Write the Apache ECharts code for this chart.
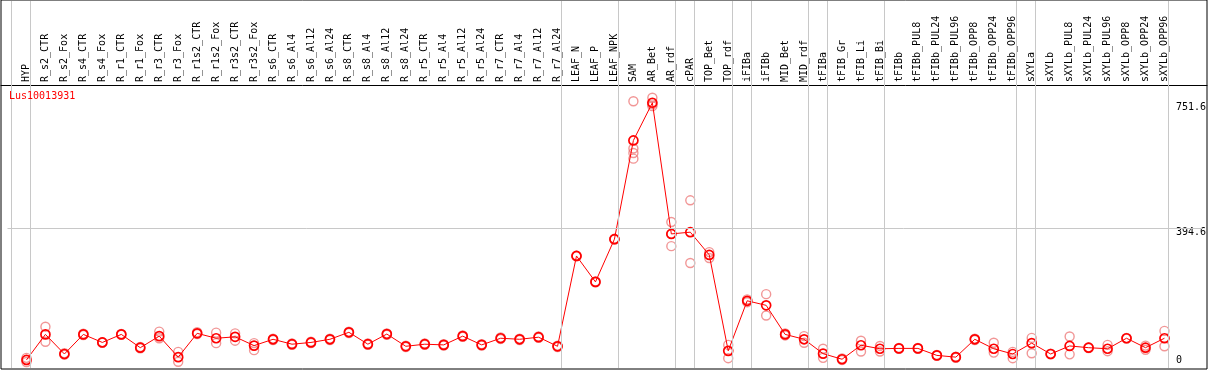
<!DOCTYPE html>
<html><head><meta charset="utf-8">
<script src="https://cdn.jsdelivr.net/npm/echarts@6/dist/echarts.min.js"></script>
<style>html,body{margin:0;padding:0;background:#fff}#c{width:1209px;height:370px}</style>
</head><body><div id="c"></div>
<script>
const title = 'Lus10013931';
const categories = ['HYP','R_s2_CTR','R_s2_Fox','R_s4_CTR','R_s4_Fox','R_r1_CTR','R_r1_Fox','R_r3_CTR','R_r3_Fox','R_r1s2_CTR','R_r1s2_Fox','R_r3s2_CTR','R_r3s2_Fox','R_s6_CTR','R_s6_Al4','R_s6_Al12','R_s6_Al24','R_s8_CTR','R_s8_Al4','R_s8_Al12','R_s8_Al24','R_r5_CTR','R_r5_Al4','R_r5_Al12','R_r5_Al24','R_r7_CTR','R_r7_Al4','R_r7_Al12','R_r7_Al24','LEAF_N','LEAF_P','LEAF_NPK','SAM','AR_Bet','AR_rdf','cPAR','TOP_Bet','TOP_rdf','iFIBa','iFIBb','MID_Bet','MID_rdf','tFIBa','tFIB_Gr','tFIB_Li','tFIB_Bi','tFIBb','tFIBb_PUL8','tFIBb_PUL24','tFIBb_PUL96','tFIBb_OPP8','tFIBb_OPP24','tFIBb_OPP96','sXYLa','sXYLb','sXYLb_PUL8','sXYLb_PUL24','sXYLb_PUL96','sXYLb_OPP8','sXYLb_OPP24','sXYLb_OPP96'];
const means = [17,90,34,90,67,90,52,85,25,93,79,83,58,76,62,67,76,96,62,91,56,62,60,85,60,79,76,82,56,314,240,362,644,751.6,377,382,317,43,186,173,90,76,35,19,59,49,50,50,30,25,76,49,34,65,34,57,52,49,79,52,79];
const replicates = [[23,11],[112,69],[36,32],[92,88],[68,66],[91,89],[54,50],[98,79],[40,12],[96,91],[95,65],[93,72],[65,45],[78,74],[64,60],[69,65],[78,74],[98,94],[64,60],[93,89],[58,54],[64,60],[62,58],[87,83],[62,58],[81,77],[78,74],[84,80],[58,54],[315,313],[241,239],[363,361],[756,621,608,592],[766,742,747],[411,342,377],[473,294],[325,308],[60,22],[190,182],[205,144],[93,87],[85,66],[49,23],[21,17],[72,41],[57,41],[51,49],[51,49],[31,29],[26,23],[78,74],[66,38],[40,22],[80,36],[35,33],[84,33],[53,51],[60,42],[80,78],[58,46],[100,56]];
const groupEnds = [-1,0,28,31,34,35,37,38,41,42,45,52,53,60];
const yLabelsTop = [394.6, 751.6];
const yLabelsBottom = [0];
const gridLineValue = 394.6;

const FONT = 'DejaVu Sans Mono';
const meanData = means.map((v,i)=>[i,v]);
const repData = [];
replicates.forEach((arr,i)=>arr.forEach(v=>repData.push([i,v])));

const chart = echarts.init(document.getElementById('c'), null, {renderer:'canvas'});
chart.setOption({
  animation:false,
  backgroundColor:'#fff',
  title:{text:title,left:9,top:91,padding:0,textStyle:{fontFamily:FONT,fontSize:10,fontWeight:'normal',color:'#ff0000'}},
  grid:[
    {left:7.5,right:4.5,top:1,bottom:2,show:false},
    {left:1,top:0,width:1206,height:369,show:true,borderColor:'#000',borderWidth:1,backgroundColor:'transparent'}
  ],
  xAxis:[
    {type:'value',gridIndex:0,min:-1,max:62,interval:1,position:'top',offset:-84,
     axisLine:{show:false},axisTick:{show:false},splitLine:{show:false},
     axisLabel:{rotate:90,margin:3,fontFamily:FONT,fontSize:10,color:'#000',hideOverlap:false,showMinLabel:true,showMaxLabel:true,
       formatter:v=>categories[Math.round(v)]!==undefined && Math.abs(v-Math.round(v))<1e-6 ? categories[Math.round(v)] : ''}},
    {type:'value',gridIndex:1,min:0,max:1,position:'top',offset:-85,
     axisLine:{show:true,onZero:false,lineStyle:{color:'#000',width:1}},axisTick:{show:false},axisLabel:{show:false},splitLine:{show:false}}
  ],
  yAxis:[
    {type:'value',gridIndex:0,min:-6,max:1042.3,position:'right',offset:-26.5,
     axisLine:{show:false},axisTick:{show:false},splitLine:{show:false},
     axisLabel:{customValues:yLabelsTop,margin:0,verticalAlign:'top',fontFamily:FONT,fontSize:10,color:'#000',formatter:v=>String(v)}},
    {type:'value',gridIndex:0,min:-6,max:1042.3,position:'right',offset:-26.5,
     axisLine:{show:false},axisTick:{show:false},splitLine:{show:false},
     axisLabel:{customValues:yLabelsBottom,margin:0,verticalAlign:'bottom',fontFamily:FONT,fontSize:10,color:'#000',formatter:v=>String(v)}},
    {type:'value',gridIndex:1,min:0,max:1,show:false}
  ],
  series:[
    {type:'scatter',xAxisIndex:0,yAxisIndex:0,data:repData,symbol:'circle',symbolSize:9,z:2,
     itemStyle:{color:'transparent',borderColor:'rgba(236,110,110,0.9)',borderWidth:1.4},
     markLine:{silent:true,symbol:'none',label:{show:false},animation:false,
       lineStyle:{color:'#c8c8c8',width:1,type:'solid'},
       data:groupEnds.map(g=>({xAxis:g+0.2})).concat([{yAxis:gridLineValue}])}},
    {type:'line',xAxisIndex:0,yAxisIndex:0,data:meanData,symbol:'circle',symbolSize:9,z:3,
     lineStyle:{color:'#ff0000',width:1},
     itemStyle:{color:'transparent',borderColor:'#ff0000',borderWidth:1.7}}
  ]
});
</script></body></html>
